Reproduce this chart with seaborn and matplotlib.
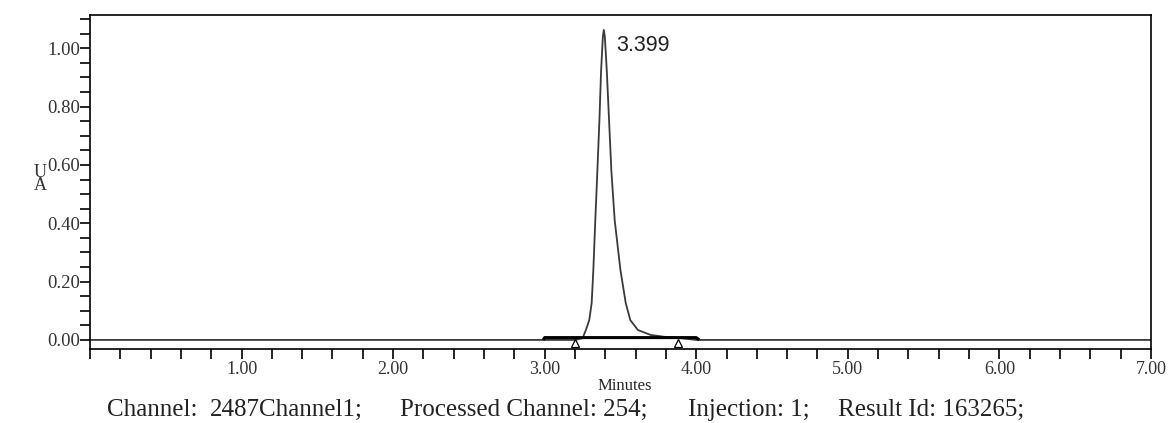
import numpy as np
import pandas as pd
import seaborn as sns
import matplotlib.pyplot as plt
from matplotlib.ticker import MultipleLocator, FormatStrFormatter

# chromatogram trace (minutes, AU)
minutes = [0.00, 3.20, 3.25, 3.272, 3.294, 3.310, 3.321, 3.334, 3.345, 3.361,
           3.372, 3.384, 3.390, 3.397, 3.410, 3.425, 3.440, 3.462, 3.500,
           3.535, 3.565, 3.615, 3.700, 3.800, 3.900, 4.000, 7.00]
absorbance = [0.000, 0.000, 0.006, 0.034, 0.068, 0.126, 0.239, 0.410, 0.546, 0.751,
              0.921, 1.040, 1.063, 1.040, 0.921, 0.751, 0.580, 0.410, 0.239,
              0.126, 0.068, 0.034, 0.017, 0.010, 0.006, 0.000, 0.000]

# integration baseline and peak start/end markers
base_t = [2.99, 3.00, 4.00, 4.02]
base_y = [0.000, 0.008, 0.008, 0.000]
marker_t = [3.20, 3.88]
marker_y = [-0.010, -0.010]

peak_rt = "3.399"
footer_parts = ["Channel:", "2487Channel1;", "Processed Channel: 254;",
                "Injection: 1;", "Result Id: 163265;"]
footer_x = [107, 210, 400, 688, 838]

df = pd.DataFrame({"Minutes": minutes, "AU": absorbance})

sns.set_style("ticks")
plt.rcParams['font.family'] = ['Liberation Serif', 'DejaVu Serif']

fig = plt.figure(figsize=(11.73, 4.23), dpi=100)
ax = fig.add_axes([0.0767, 0.175, 0.9045, 0.7895])

sns.lineplot(data=df, x="Minutes", y="AU", ax=ax, color="#3a3a3a", linewidth=1.3)
ax.plot(base_t, base_y, color="black", linewidth=2.2, solid_capstyle="butt")
ax.plot(marker_t, marker_y, linestyle="none", marker="^", markersize=6,
        markerfacecolor="white", markeredgecolor="black", markeredgewidth=0.9,
        clip_on=False)

ax.text(3.47, 1.01, peak_rt, fontsize=15.5, family=['Liberation Sans', 'DejaVu Sans'],
        color="#222222", va="center", ha="left")

ax.set_xlim(0, 7)
ax.set_ylim(-0.031, 1.114)
ax.xaxis.set_major_locator(MultipleLocator(1.0))
ax.xaxis.set_minor_locator(MultipleLocator(0.2))
ax.yaxis.set_major_locator(MultipleLocator(0.2))
ax.yaxis.set_minor_locator(MultipleLocator(0.05))
ax.xaxis.set_major_formatter(FormatStrFormatter("%.2f"))
ax.yaxis.set_major_formatter(FormatStrFormatter("%.2f"))
ax.set_xticks([1, 2, 3, 4, 5, 6, 7])

ax.tick_params(axis="both", which="both", direction="out", length=7, width=1.2,
               color="black", labelcolor="#333333")
ax.tick_params(axis="y", which="major", pad=0, labelsize=13.5)
ax.tick_params(axis="x", which="major", pad=2, labelsize=13)
for s in ax.spines.values():
    s.set_linewidth(1.2)
    s.set_color("black")
    s.set_visible(True)

ax.set_xlabel("Minutes", fontsize=12)
ax.xaxis.set_label_coords((625 - 90) / 1061, -(386 - 349) / 334)
ax.xaxis.label.set_va("center")
ax.set_ylabel("")
fig.text(40 / 1173, 1 - 179 / 423, "U\nA", fontsize=13, ha="center", va="center",
         linespacing=0.7, color="#333333")

for part, px in zip(footer_parts, footer_x):
    fig.text(px / 1173, 1 - 410 / 423, part, fontsize=18, ha="left", va="center",
             color="#222222")

fig.savefig("out.png", dpi=100)
